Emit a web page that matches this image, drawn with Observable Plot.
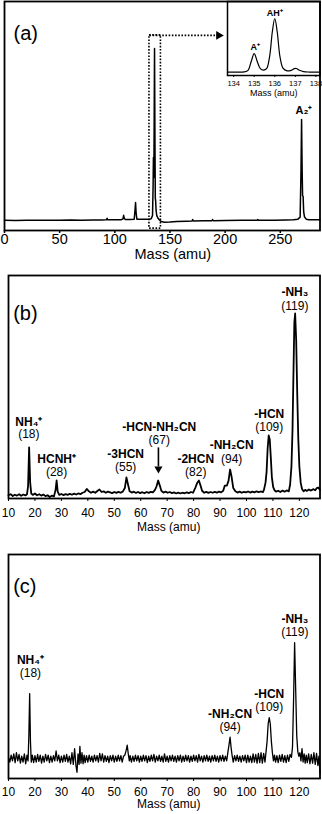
<!DOCTYPE html>
<html><head><meta charset="utf-8">
<script src="https://cdn.jsdelivr.net/npm/d3@7"></script>
<script src="https://cdn.jsdelivr.net/npm/@observablehq/plot@0.6"></script>
<style>
body{margin:0;background:#fff;}
#wrap{position:relative;width:322px;height:814px;overflow:hidden;background:#fff;}
#wrap svg{position:absolute;}
</style></head><body><div id="wrap"></div>
<script>
const FONT = '"Liberation Sans", Arial, Helvetica, sans-serif';

// ---------- Panel (a): full spectrum ----------
const ticksA = [0, 50, 100, 150, 200, 250];
const traceA = [[0,0.002],[10,0.0],[20,0.002],[30,0.001],[40,0.002],[50,0.001],[60,0.003],[70,0.002],[80,0.003],[88,0.003],[92.5,0.004],[93,0.013],[93.5,0.004],[100,0.004],[106,0.005],[107.4,0.01],[108,0.03],[108.6,0.012],[109.5,0.006],[114,0.006],[117.6,0.008],[118.3,0.06],[118.8,0.105],[119.3,0.045],[120,0.008],[126,0.007],[131,0.008],[133,0.01],[134.2,0.03],[134.7,0.2],[135,0.366],[135.4,0.25],[135.7,0.6],[136,1.0],[136.4,0.45],[136.7,0.13],[137,0.116],[137.4,0.06],[138,0.03],[139,0.015],[140.5,0.003],[142,-0.006],[145,-0.01],[150,-0.009],[156,-0.006],[165,-0.004],[170,-0.003],[170.6,0.006],[171.2,-0.003],[180,-0.002],[188,-0.001],[188.6,0.006],[189.2,-0.001],[200,0.0],[215,0.001],[229,0.001],[229.6,0.006],[230.2,0.001],[245,0.002],[255,0.003],[262,0.004],[266,0.008],[268,0.02],[268.8,0.3],[269.3,0.587],[269.8,0.3],[270.2,0.145],[270.7,0.14],[271.2,0.05],[272,0.02],[273.5,0.008],[276,0.005],[286,0.004]];
const labelsA = [{name:"A₂⁺", mass:271.5, value:0.64}];
const zoomBox = {x1:131.4, x2:141.8, y1:-0.047, y2:1.076};
const zoomArrow = {x1:131.4, x2:194, y:1.076, head:194.2};

// ---------- Inset ----------
const ticksInset = [134, 135, 136, 137, 138];
const traceInset = [[133.7,0.005],[134.2,0.006],[134.5,0.01],[134.7,0.04],[134.85,0.2],[135,0.35],[135.15,0.2],[135.3,0.07],[135.45,0.045],[135.6,0.07],[135.75,0.3],[135.88,0.75],[136,1.0],[136.12,0.75],[136.25,0.3],[136.4,0.08],[136.6,0.03],[136.8,0.04],[136.95,0.07],[137.05,0.074],[137.2,0.04],[137.4,0.015],[137.7,0.008],[138.2,0.006]];
const labelsInset = [{name:"A⁺", mass:135.05, value:0.47},{name:"AH⁺", mass:136.0, value:1.098}];

// ---------- Panel (b) ----------
const ticksBC = [10,20,30,40,50,60,70,80,90,100,110,120];
const traceB = [[10,-0.01],[10.8,-0.004],[11.6,-0.014],[12.4,-0.007],[13.2,-0.012],[14,-0.004],[14.8,-0.013],[15.6,-0.006],[16.4,-0.011],[17,-0.004],[17.4,0.04],[17.8,0.256],[18.2,0.06],[18.6,0.0],[19.2,-0.008],[20,0.0],[20.8,-0.01],[21.6,-0.004],[22.4,-0.012],[23.2,-0.006],[24,-0.015],[24.8,-0.01],[25.6,-0.02],[26.4,-0.012],[27.2,-0.016],[27.8,0.02],[28.2,0.072],[28.6,0.01],[29.2,-0.008],[30,-0.003],[30.8,-0.009],[31.6,-0.004],[32.4,-0.008],[33.2,-0.002],[34,-0.007],[34.8,-0.001],[35.6,-0.006],[36.4,0.0],[37.2,-0.004],[38,0.004],[38.8,0.008],[39.6,0.025],[40.4,0.012],[41.2,0.004],[42,0.01],[42.8,0.004],[43.6,0.014],[44.4,0.022],[45.2,0.008],[46,0.012],[46.8,0.004],[47.6,0.01],[48.4,0.006],[49.2,0.002],[50,0.008],[50.8,0.003],[51.6,0.009],[52.4,0.004],[53.2,0.01],[54,0.03],[54.6,0.089],[55.2,0.05],[55.8,0.012],[56.6,0.005],[57.4,0.01],[58.2,0.003],[59,0.008],[59.8,0.002],[60.6,0.007],[61.4,0.001],[62.2,0.008],[63,0.003],[63.8,0.009],[64.6,0.006],[65.4,0.02],[66,0.04],[66.6,0.072],[67.2,0.045],[67.8,0.015],[68.6,0.005],[69.4,0.01],[70.2,0.004],[71,0.008],[71.8,0.002],[72.6,0.006],[73.4,0.0],[74.2,0.005],[75,0.0],[75.8,0.004],[76.6,0.001],[77.4,0.006],[78.2,0.002],[79,0.008],[79.8,0.004],[80.6,0.03],[81.4,0.06],[82,0.072],[82.6,0.045],[83.2,0.015],[84,0.004],[84.8,0.009],[85.6,0.003],[86.4,0.008],[87.2,0.004],[88,0.009],[88.8,0.005],[89.6,0.01],[90.4,0.006],[91.2,0.015],[91.8,0.044],[92.6,0.044],[93.2,0.07],[93.8,0.133],[94.4,0.09],[95,0.03],[95.8,0.012],[96.6,0.005],[97.4,0.01],[98.2,0.004],[99,0.009],[99.8,0.006],[100.6,0.011],[101.4,0.005],[102.2,0.01],[103,0.006],[103.8,0.012],[104.6,0.007],[105.4,0.011],[106.2,0.008],[106.6,0.02],[107.2,0.06],[107.6,0.12],[108,0.25],[108.4,0.322],[108.8,0.3],[109.2,0.2],[109.6,0.09],[110.1,0.035],[110.6,0.018],[111.2,0.01],[112,0.015],[112.8,0.008],[113.6,0.016],[114.4,0.01],[115.2,0.017],[116,0.012],[116.5,0.05],[117,0.15],[117.4,0.35],[117.8,0.7],[118.1,0.95],[118.4,1.0],[118.8,0.85],[119.2,0.55],[119.6,0.3],[120,0.15],[120.5,0.06],[121,0.025],[121.6,0.012],[122.2,0.02],[122.8,0.014],[123.6,0.022],[124.4,0.016],[125.2,0.024],[126,0.018],[126.6,0.03],[127.1,0.033],[127.8,0.02]];
const labelsB = [
  {name:"NH₄⁺", num:"(18)", mass:17.7, nameY:0.398, numY:0.328},
  {name:"HCNH⁺", num:"(28)", mass:28.2, nameY:0.193, numY:0.118},
  {name:"-3HCN", num:"(55)", mass:54.3, nameY:0.221, numY:0.146},
  {name:"-HCN-NH₂CN", num:"(67)", mass:67.0, nameY:0.368, numY:0.294},
  {name:"-2HCN", num:"(82)", mass:80.8, nameY:0.193, numY:0.118},
  {name:"-NH₂CN", num:"(94)", mass:94.4, nameY:0.268, numY:0.193},
  {name:"-HCN", num:"(109)", mass:108.6, nameY:0.443, numY:0.368},
  {name:"-NH₃", num:"(119)", mass:118.3, nameY:1.116, numY:1.041}
];
const arrowB = {mass:66.7, y1:0.256, y2:0.15, head:0.137};

// ---------- Panel (c) ----------
const traceC = [[10,0.01],[10.5,-0.03],[11,0.03],[11.5,-0.02],[12,0.04],[12.5,-0.035],[13,0.05],[13.5,-0.02],[14,0.035],[14.5,-0.04],[15,0.02],[15.5,-0.03],[16,0.04],[16.5,-0.045],[17,0.03],[17.4,-0.02],[17.7,0.2],[18,0.56],[18.3,0.15],[18.6,-0.03],[19,0.03],[19.5,-0.035],[20,0.025],[20.5,-0.03],[21,0.035],[21.5,-0.025],[22,0.03],[22.5,-0.04],[23,0.02],[23.5,-0.03],[24,0.035],[24.5,-0.02],[25,0.03],[25.5,-0.035],[26,0.02],[26.5,-0.03],[27,0.025],[27.5,-0.02],[28,0.065],[28.5,-0.02],[29,0.03],[29.5,-0.035],[30,0.02],[30.5,-0.03],[31,0.03],[31.5,-0.025],[32,0.035],[32.5,-0.03],[33,0.02],[33.5,-0.045],[34,0.05],[34.5,-0.05],[35,0.085],[35.5,-0.06],[35.9,-0.118],[36.3,0.04],[36.7,-0.05],[37,0.105],[37.4,-0.04],[37.8,0.05],[38.2,-0.045],[38.6,0.03],[39,-0.035],[39.5,0.025],[40,-0.03],[40.5,0.03],[41,-0.025],[41.5,0.02],[42,-0.03],[42.5,0.03],[43,-0.02],[43.5,0.025],[44,-0.03],[44.5,0.045],[45,-0.02],[45.5,0.04],[46,-0.03],[46.5,0.025],[47,-0.025],[47.5,0.02],[48,-0.035],[48.5,0.025],[49,-0.02],[49.5,0.03],[50,-0.03],[50.5,0.02],[51,-0.025],[51.5,0.03],[52,-0.02],[52.5,0.025],[53,-0.03],[53.5,0.02],[54,0.03],[54.5,0.07],[54.9,0.115],[55.3,0.04],[55.7,-0.02],[56,0.025],[56.5,-0.03],[57,0.02],[57.5,-0.025],[58,0.03],[58.5,-0.02],[59,0.025],[59.5,-0.03],[60,0.02],[60.5,-0.025],[61,0.03],[61.5,-0.02],[62,0.025],[62.5,-0.035],[63,0.02],[63.5,-0.025],[64,0.03],[64.5,-0.02],[65,0.035],[65.5,-0.03],[66,0.02],[66.5,-0.02],[67,0.03],[67.5,-0.025],[68,0.02],[68.5,-0.03],[69,0.04],[69.5,-0.025],[70,0.02],[70.5,-0.03],[71,0.025],[71.5,-0.02],[72,0.03],[72.5,-0.025],[73,0.02],[73.5,-0.03],[74,0.025],[74.5,-0.02],[75,0.03],[75.5,-0.03],[76,0.02],[76.5,-0.025],[77,0.03],[77.5,-0.02],[78,0.025],[78.5,-0.03],[79,0.02],[79.5,-0.025],[80,0.03],[80.5,-0.02],[81,0.025],[81.5,-0.03],[82,0.035],[82.5,-0.02],[83,0.02],[83.5,-0.03],[84,0.025],[84.5,-0.02],[85,0.03],[85.5,-0.025],[86,0.02],[86.5,-0.03],[87,0.025],[87.5,-0.02],[88,0.03],[88.5,-0.025],[89,0.02],[89.5,-0.03],[90,0.025],[90.5,-0.02],[91,0.03],[91.5,-0.025],[92,0.02],[92.5,-0.02],[93,0.06],[93.4,0.12],[93.8,0.184],[94.2,0.09],[94.6,0.02],[95,-0.03],[95.5,0.025],[96,-0.02],[96.5,0.03],[97,-0.025],[97.5,0.02],[98,-0.03],[98.5,0.025],[99,-0.02],[99.5,0.03],[100,-0.035],[100.5,0.03],[101,-0.03],[101.5,0.02],[102,-0.035],[102.5,0.04],[103,-0.03],[103.5,0.035],[104,-0.04],[104.5,0.045],[105,-0.035],[105.5,0.05],[106,-0.04],[106.5,0.045],[107,-0.03],[107.4,0.06],[107.8,0.15],[108.2,0.3],[108.6,0.353],[109,0.3],[109.4,0.15],[109.8,0.05],[110.2,-0.02],[110.6,0.03],[111,-0.03],[111.5,0.025],[112,-0.035],[112.5,0.03],[113,-0.025],[113.5,0.035],[114,-0.03],[114.5,0.025],[115,-0.035],[115.5,0.03],[116,-0.025],[116.5,0.035],[117,0.01],[117.4,0.1],[117.8,0.5],[118.2,1.0],[118.6,0.6],[119,0.2],[119.4,0.06],[119.8,0.02],[120.2,0.05],[120.6,-0.02],[121,0.086],[121.4,-0.03],[121.8,0.04],[122.2,-0.04],[122.6,0.03],[123,-0.035],[123.5,0.04],[124,-0.045],[124.5,0.035],[125,-0.04],[125.5,0.05],[126,-0.05],[126.5,0.045],[127,-0.06],[127.4,0.02],[127.8,-0.13]];
const labelsC = [
  {name:"NH₄⁺", num:"(18)", mass:18.3, nameY:0.845, numY:0.735},
  {name:"-NH₂CN", num:"(94)", mass:93.8, nameY:0.379, numY:0.270},
  {name:"-HCN", num:"(109)", mass:108.6, nameY:0.552, numY:0.442},
  {name:"-NH₃", num:"(119)", mass:118.3, nameY:1.2, numY:1.089}
];

const AXIS_TITLE = "Mass (amu)";
const wrap = document.getElementById("wrap");
const X = d => d[0], Y = d => d[1];
const lineOpts = {x:X, y:Y, stroke:"black", strokeLinejoin:"round", strokeLinecap:"round"};
const intFmt = d => String(d);

function place(svg, left, top) {
  svg.style.left = left + "px";
  svg.style.top = top + "px";
  wrap.appendChild(svg);
}

// (a)
const plotA = Plot.plot({
  width:322, height:265, marginTop:1, marginBottom:35, marginLeft:4, marginRight:2.5,
  style:{fontFamily:FONT, background:"transparent", color:"black"},
  x:{domain:[0,286], axis:null},
  y:{domain:[-0.058,1.273], axis:null},
  marks:[
    Plot.line(traceA, {...lineOpts, strokeWidth:1.5}),
    Plot.rect([zoomBox], {x1:"x1", x2:"x2", y1:"y1", y2:"y2", fill:"none", stroke:"black", strokeWidth:1.6, strokeDasharray:"1.6,1.6"}),
    Plot.link([zoomArrow], {x1:"x1", x2:"x2", y1:"y", y2:"y", stroke:"black", strokeWidth:1.6, strokeDasharray:"1.6,1.6"}),
    Plot.dot([zoomArrow], {x:"head", y:"y", symbol:"triangle", rotate:90, r:3.3, fill:"black", stroke:"none"}),
    Plot.text(labelsA, {x:"mass", y:"value", text:"name", fontWeight:"bold", fontSize:11}),
    Plot.text(["(a)"], {text:d=>d, frameAnchor:"top-left", textAnchor:"start", dx:9, dy:24, fontSize:20}),
    Plot.axisX({ticks:ticksA, tickFormat:intFmt, tickSize:3, tickPadding:0, fontSize:14.5, label:null, strokeWidth:1.5}),
    Plot.text([AXIS_TITLE], {text:d=>d, frameAnchor:"bottom", dx:10.5, dy:28.5, fontSize:14.5}),
    Plot.frame({stroke:"black", strokeWidth:1.8})
  ]
});
place(plotA, 0, 0);

// inset
const plotI = Plot.plot({
  width:96, height:100, marginTop:1, marginBottom:25, marginLeft:1, marginRight:2.5,
  style:{fontFamily:FONT, background:"transparent", color:"black"},
  x:{domain:[133.7,138.2], axis:null},
  y:{domain:[-0.056,1.315], axis:null},
  marks:[
    Plot.line(traceInset, {...lineOpts, curve:"catmull-rom", strokeWidth:1.2}),
    Plot.text(labelsInset, {x:"mass", y:"value", text:"name", fontWeight:"bold", fontSize:9}),
    Plot.axisX({ticks:ticksInset, tickFormat:intFmt, tickSize:2, tickPadding:3, fontSize:7.5, label:null}),
    Plot.text([AXIS_TITLE], {text:d=>d, frameAnchor:"bottom", dy:20, fontSize:9}),
    Plot.frame({stroke:"black", strokeWidth:1.5})
  ]
});
place(plotI, 226, 0);

function fragmentPlot(trace, labels, yDomain, opts) {
  return Plot.plot({
    width:322, height:opts.height, marginTop:opts.mt, marginBottom:opts.mb, marginLeft:8, marginRight:2.5,
    style:{fontFamily:FONT, background:"transparent", color:"black"},
    x:{domain:[10,127.8], axis:null},
    y:{domain:yDomain, axis:null},
    marks:[
      Plot.line(trace, {...lineOpts, strokeWidth:opts.sw}),
      Plot.text(labels, {x:"mass", y:"nameY", text:"name", fontWeight:"bold", fontSize:12}),
      Plot.text(labels, {x:"mass", y:"numY", text:"num", fontSize:12}),
      ...(opts.extra || []),
      Plot.text([opts.tag], {text:d=>d, frameAnchor:"top-left", textAnchor:"start", dx:4.7, dy:opts.tagDy, fontSize:20}),
      Plot.axisX({ticks:ticksBC, tickFormat:intFmt, tickSize:3, tickPadding:opts.tp, fontSize:12, label:null}),
      Plot.text([AXIS_TITLE], {text:d=>d, frameAnchor:"bottom", dx:4.5, dy:opts.titleDy, fontSize:12}),
      Plot.frame({stroke:"black", strokeWidth:1.8})
    ]
  });
}

const plotB = fragmentPlot(traceB, labelsB, [-0.028,1.211], {
  height:270, mt:5, mb:42, sw:1.8, tag:"(b)", tagDy:30, tp:7, titleDy:32.5,
  extra:[
    Plot.link([arrowB], {x1:"mass", x2:"mass", y1:"y1", y2:"y2", stroke:"black", strokeWidth:1.6}),
    Plot.dot([arrowB], {x:"mass", y:"head", symbol:"triangle", rotate:180, r:3, fill:"black", stroke:"none"})
  ]
});
place(plotB, 0, 270);

const plotC = fragmentPlot(traceC, labelsC, [-0.172,1.759], {
  height:266, mt:6, mb:36, sw:1.3, tag:"(c)", tagDy:24, tp:5.5, titleDy:29.5
});
place(plotC, 0, 548);
</script></body></html>
